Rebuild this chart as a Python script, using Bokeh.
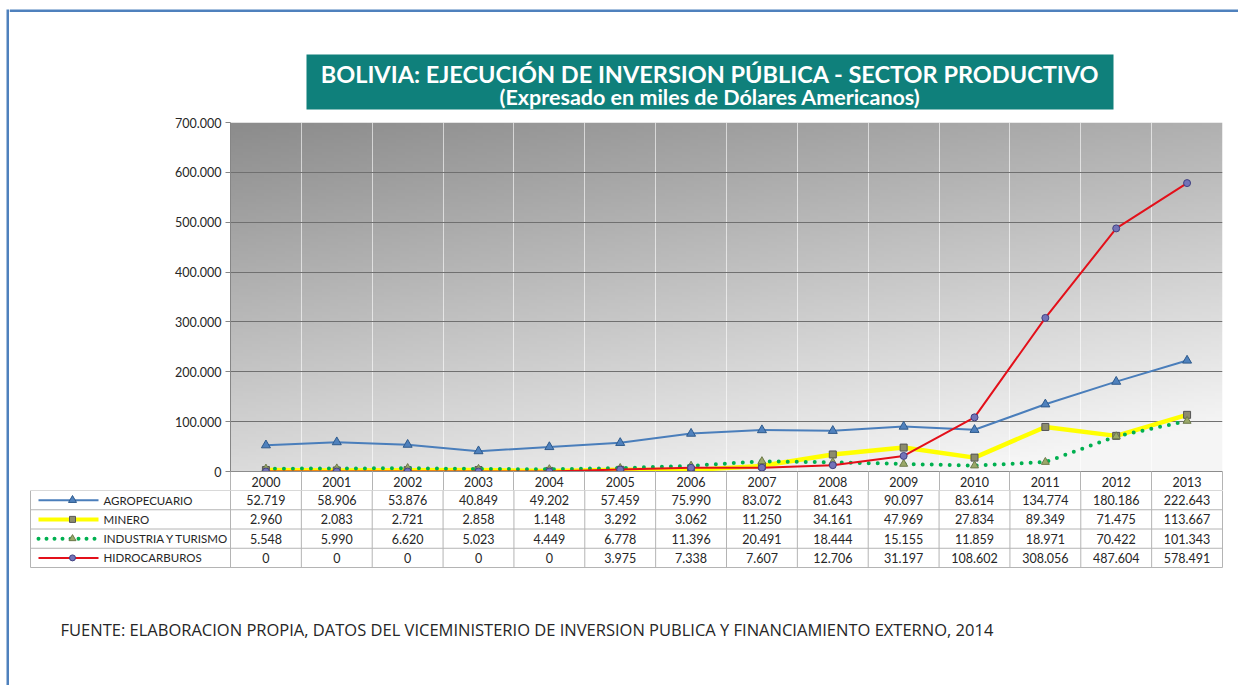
import numpy as np
from bokeh.plotting import figure
from bokeh.layouts import column, row
from bokeh.models import Range1d, FixedTicker
from bokeh.core.properties import value
from bokeh.embed import file_html
from bokeh.resources import INLINE

# ---------------- data ----------------
years = ["2000", "2001", "2002", "2003", "2004", "2005", "2006",
         "2007", "2008", "2009", "2010", "2011", "2012", "2013"]
agropecuario = [52719, 58906, 53876, 40849, 49202, 57459, 75990,
                83072, 81643, 90097, 83614, 134774, 180186, 222643]
minero = [2960, 2083, 2721, 2858, 1148, 3292, 3062,
          11250, 34161, 47969, 27834, 89349, 71475, 113667]
industria = [5548, 5990, 6620, 5023, 4449, 6778, 11396,
             20491, 18444, 15155, 11859, 18971, 70422, 101343]
hidrocarburos = [0, 0, 0, 0, 0, 3975, 7338,
                 7607, 12706, 31197, 108602, 308056, 487604, 578491]
series_names = ["AGROPECUARIO", "MINERO", "INDUSTRIA Y TURISMO", "HIDROCARBUROS"]
y_ticks = [0, 100000, 200000, 300000, 400000, 500000, 600000, 700000]
title_line1 = "BOLIVIA: EJECUCIÓN DE INVERSION PÚBLICA - SECTOR PRODUCTIVO"
title_line2 = "(Expresado en miles de Dólares Americanos)"
source_note = ("FUENTE: ELABORACION PROPIA, DATOS DEL VICEMINISTERIO DE INVERSION "
               "PUBLICA Y FINANCIAMIENTO  EXTERNO, 2014")

def fmt(v):
    return f"{v:,}".replace(",", ".")

# ---------------- styles ----------------
FONT = "Lato"
BLUE_BORDER = "#4f81bd"
TEAL = "#0f807b"
TXT = "#262626"
CELL_LINE = "#b4b4b4"
styles = [
    dict(line="#4a7ebb", lw=2, dash="solid", marker="triangle", size=9,
         mfill="#4f81bd", mline="#2e5a8c"),
    dict(line="#ffff00", lw=4.5, dash="solid", marker="square", size=7,
         mfill="#8c8c6e", mline="#555555"),
    dict(line="#00b050", lw=4, dash="0 9", marker="triangle", size=8,
         mfill="#9aa868", mline="#6d7a4a"),
    dict(line="#e3101a", lw=2, dash="solid", marker="circle", size=7,
         mfill="#7373b8", mline="#404080"),
]
all_series = [agropecuario, minero, industria, hidrocarburos]

# page geometry (pixels, page origin at 0,0)
STRIP_W = 9
COL_X0, COL_X1 = STRIP_W, 1238
COL_W = COL_X1 - COL_X0
PLOT_L, PLOT_R = 230, 1222
PLOT_T = 122
PLOT_B = 471
HDR_H = 19
TABLE_L = 30
TOP_H = 112            # page y 0..112
HDR_B = PLOT_B + HDR_H
TB_B = 567
END_Y = 685
n = len(years)
cw = (PLOT_R - PLOT_L) / n

def base_fig(w, h, xr, yr):
    f = figure(width=w, height=h, x_range=xr, y_range=yr,
               x_axis_type=None, y_axis_type=None, toolbar_location=None,
               output_backend="svg", min_border=0, title=None,
               frame_align=False)
    f.outline_line_color = None
    f.background_fill_color = "white"
    f.border_fill_color = "white"
    return f

# ---------------- title strip ----------------
ft = base_fig(COL_W, TOP_H, Range1d(COL_X0, COL_X1), Range1d(TOP_H, 0))
ft.quad(left=[COL_X0], right=[COL_X1], top=[9], bottom=[11.5],
        fill_color=BLUE_BORDER, line_color=None)
ft.quad(left=[306], right=[1113], top=[54], bottom=[109],
        fill_color=TEAL, line_color=None)
ft.text(x=[709.5], y=[73], text=[title_line1], text_align="center",
        text_baseline="middle", text_color="white", text_font=value(FONT),
        text_font_style="bold", text_font_size="23.5px")
ft.text(x=[709.5], y=[96], text=[title_line2], text_align="center",
        text_baseline="middle", text_color="white", text_font=value(FONT),
        text_font_style="bold", text_font_size="21.5px")

# ---------------- chart ----------------
xs = list(range(n))
p = figure(width=COL_W, height=HDR_B - TOP_H,
           x_range=Range1d(-0.5, n - 0.5), y_range=Range1d(0, 700000),
           toolbar_location=None, output_backend="svg", title=None,
           frame_align=False,
           min_border_left=PLOT_L - COL_X0, min_border_right=COL_X1 - PLOT_R,
           min_border_top=PLOT_T - TOP_H, min_border_bottom=HDR_H)
p.outline_line_color = None
p.background_fill_color = "white"
p.border_fill_color = "white"

# gradient background
H, Wd = 120, 240
yy, xx = np.mgrid[0:H, 0:Wd]
d = (H - 1 - yy) / (H - 1)
u = xx / (Wd - 1)
t = np.clip(0.75 * d + 0.35 * u, 0, 1)
c = (140 + 105 * t).astype(np.uint8)
img = np.empty((H, Wd), dtype=np.uint32)
view = img.view(dtype=np.uint8).reshape((H, Wd, 4))
view[..., 0] = c
view[..., 1] = c
view[..., 2] = c
view[..., 3] = 255
p.image_rgba(image=[img], x=-0.5, y=0, dw=n, dh=700000, level="image")

for s, st in zip(all_series, styles):
    kw = dict(line_color=st["line"], line_width=st["lw"])
    if st["dash"] != "solid":
        kw.update(line_dash=st["dash"], line_cap="round")
    p.line(xs, s, **kw)
    p.scatter(xs, s, marker=st["marker"], size=st["size"],
              fill_color=st["mfill"], line_color=st["mline"])

# y axis
p.yaxis.ticker = FixedTicker(ticks=y_ticks)
p.yaxis.major_label_overrides = {v: fmt(v) for v in y_ticks}
p.yaxis.major_tick_out = 5
p.yaxis.major_tick_in = 0
p.yaxis.minor_tick_line_color = None
p.yaxis.axis_line_color = "#868686"
p.yaxis.major_tick_line_color = "#868686"
p.yaxis.major_label_standoff = 4
p.yaxis.major_label_text_font = FONT
p.yaxis.major_label_text_font_size = "12.5px"
p.yaxis.major_label_text_color = TXT

# x axis = table header row (years), minor ticks = header cell borders
p.xaxis.ticker = FixedTicker(ticks=xs, minor_ticks=[i - 0.5 for i in range(n + 1)])
p.xaxis.major_label_overrides = {i: years[i] for i in xs}
p.xaxis.major_tick_out = 0
p.xaxis.major_tick_in = 0
p.xaxis.major_tick_line_color = None
p.xaxis.minor_tick_out = HDR_H
p.xaxis.minor_tick_in = 0
p.xaxis.minor_tick_line_color = CELL_LINE
p.xaxis.axis_line_color = "#8c8c8c"
p.xaxis.major_label_standoff = -14
p.xaxis.major_label_text_font = FONT
p.xaxis.major_label_text_font_size = "12.5px"
p.xaxis.major_label_text_color = TXT

p.ygrid.ticker = FixedTicker(ticks=y_ticks)
p.ygrid.grid_line_color = "#707070"
p.ygrid.grid_line_width = 1
p.xgrid.ticker = FixedTicker(ticks=[i + 0.5 for i in range(n - 1)])
p.xgrid.grid_line_color = "white"
p.xgrid.grid_line_alpha = 0.6

# ---------------- table + footer ----------------
fb = base_fig(COL_W, END_Y - HDR_B, Range1d(COL_X0, COL_X1), Range1d(END_Y, HDR_B))
nrows = len(series_names)
rh = (TB_B - HDR_B) / nrows
hy = [HDR_B + k * rh for k in range(nrows + 1)]
fb.segment(x0=[TABLE_L] * len(hy), x1=[PLOT_R] * len(hy), y0=hy, y1=hy,
           line_color=CELL_LINE, line_width=1)
vx = [TABLE_L] + [PLOT_L + i * cw for i in range(n + 1)]
fb.segment(x0=vx, x1=vx, y0=[HDR_B] * len(vx), y1=[TB_B] * len(vx),
           line_color=CELL_LINE, line_width=1)

for r, (name, s, st) in enumerate(zip(series_names, all_series, styles)):
    yc = HDR_B + (r + 0.5) * rh
    kw = dict(line_color=st["line"], line_width=min(st["lw"], 4))
    if st["dash"] != "solid":
        kw.update(line_dash="0 8", line_cap="round")
    fb.line([38, 98], [yc, yc], **kw)
    fb.scatter([72], [yc], marker=st["marker"], size=st["size"] - 1,
               fill_color=st["mfill"], line_color=st["mline"])
    fb.text(x=[103], y=[yc], text=[name], text_align="left",
            text_baseline="middle", text_color=TXT, text_font=value(FONT),
            text_font_size="11.5px")
    fb.text(x=[PLOT_L + (i + 0.5) * cw for i in range(n)], y=[yc] * n,
            text=[fmt(v) for v in s], text_align="center",
            text_baseline="middle", text_color=TXT, text_font=value(FONT),
            text_font_size="12.5px")

fb.text(x=[60], y=[629], text=[source_note], text_align="left",
        text_baseline="middle", text_color=TXT, text_font=value("Open Sans"),
        text_font_size="16.5px")

# ---------------- left border strip ----------------
strip = base_fig(STRIP_W, END_Y, Range1d(0, STRIP_W), Range1d(END_Y, 0))
strip.quad(left=[6], right=[8.5], top=[9], bottom=[END_Y],
           fill_color=BLUE_BORDER, line_color=None)

layout = row(strip, column(ft, p, fb))
open("out.html", "w").write(file_html(layout, INLINE))
